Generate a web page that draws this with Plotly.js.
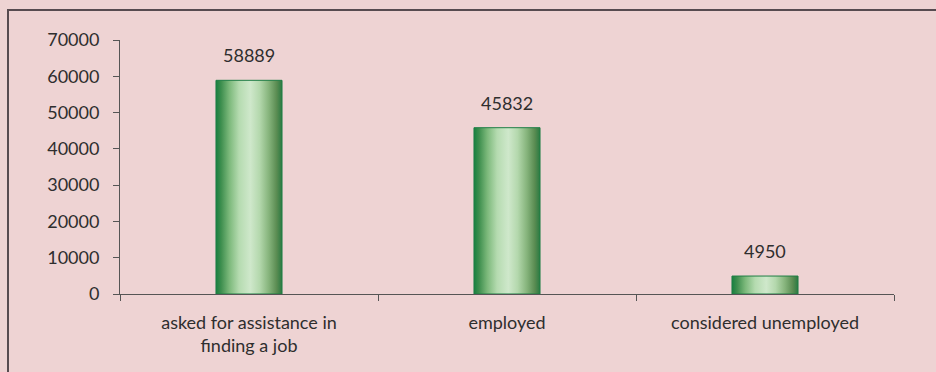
<!DOCTYPE html>
<html>
<head>
<meta charset="utf-8">
<script src="https://cdn.plot.ly/plotly-3.0.1.min.js"></script>
<style>
  html, body { margin: 0; padding: 0; background: #eed3d3; overflow: hidden; }
  #wrap { position: relative; width: 936px; height: 372px; overflow: hidden; }
  #chart { position: absolute; left: 0; top: 0; width: 936px; height: 372px; }
  .edge { position: absolute; background: #574b50; pointer-events: none; z-index: 5; }
  #edgeTop { left: 7px; top: 9px; width: 929px; height: 2px; }
  #edgeLeft { left: 7px; top: 9px; width: 2px; height: 363px; }
  #coverRight { position: absolute; left: 915px; top: 11px; width: 21px; height: 361px;
                background: #eed3d3; z-index: 6; pointer-events: none; }
</style>
</head>
<body>
<div id="wrap">
  <div id="chart"></div>
  <div id="edgeTop" class="edge"></div>
  <div id="edgeLeft" class="edge"></div>
  <div id="coverRight"></div>
</div>
<script>
const categories = ["asked for assistance in<br>finding a job", "employed", "considered unemployed"];
const values = [58889, 45832, 4950];
const yTickValues = [0, 10000, 20000, 30000, 40000, 50000, 60000, 70000];

const fontFamily = "Lato, Liberation Sans, Arial, sans-serif";
const textColor = "#2e2e2e";
const fontSize = 18;

const trace = {
  type: "bar",
  x: categories,
  y: values,
  width: 0.256,
  marker: { color: "#8cc48c", line: { color: "#1e7e45", width: 1 } },
  hoverinfo: "none"
};

const annotations = categories.map((c, i) => ({
  x: c, y: values[i], xref: "x", yref: "y",
  text: String(values[i]), showarrow: false,
  yanchor: "bottom", yshift: 12,
  font: { family: fontFamily, size: fontSize, color: textColor }
}));

const layout = {
  width: 936, height: 372,
  margin: { l: 120, r: 42, t: 40, b: 78, pad: 0 },
  paper_bgcolor: "#eed3d3",
  plot_bgcolor: "rgba(0,0,0,0)",
  showlegend: false,
  font: { family: fontFamily, size: fontSize, color: textColor },
  xaxis: {
    type: "category",
    showline: true, linecolor: "#555555", linewidth: 1,
    ticks: "outside", tickson: "boundaries", ticklen: 6, tickcolor: "#555555",
    ticklabelstandoff: 12,
    showgrid: false, zeroline: false,
    tickfont: { family: fontFamily, size: fontSize, color: textColor }
  },
  yaxis: {
    range: [0, 70000],
    tickvals: yTickValues,
    ticktext: yTickValues.map(String),
    showline: true, linecolor: "#555555", linewidth: 1,
    ticks: "outside", ticklen: 6, tickcolor: "#555555",
    ticklabelstandoff: 10,
    showgrid: false, zeroline: false,
    tickfont: { family: fontFamily, size: fontSize, color: textColor }
  },
  annotations: annotations
};

Plotly.newPlot("chart", [trace], layout, { staticPlot: true }).then(gd => {
  const NS = "http://www.w3.org/2000/svg";
  const svg = gd.querySelector("svg.main-svg");
  let defs = svg.querySelector("defs");
  if (!defs) { defs = document.createElementNS(NS, "defs"); svg.insertBefore(defs, svg.firstChild); }
  const grad = document.createElementNS(NS, "linearGradient");
  grad.setAttribute("id", "bargrad");
  grad.setAttribute("x1", "0"); grad.setAttribute("y1", "0");
  grad.setAttribute("x2", "1"); grad.setAttribute("y2", "0");
  const stops = [
    [0, "#17803f"], [0.08, "#3f8f4f"], [0.2, "#7bb87a"], [0.35, "#b5dbb0"],
    [0.52, "#cfe8cb"], [0.66, "#b4d8ad"], [0.8, "#86b47c"], [0.92, "#5a8c52"], [1, "#2a7a42"]
  ];
  stops.forEach(([o, c]) => {
    const s = document.createElementNS(NS, "stop");
    s.setAttribute("offset", o); s.setAttribute("stop-color", c);
    grad.appendChild(s);
  });
  defs.appendChild(grad);
  gd.querySelectorAll(".barlayer .point path").forEach(p => { p.style.fill = "url(#bargrad)"; });
});
</script>
</body>
</html>
